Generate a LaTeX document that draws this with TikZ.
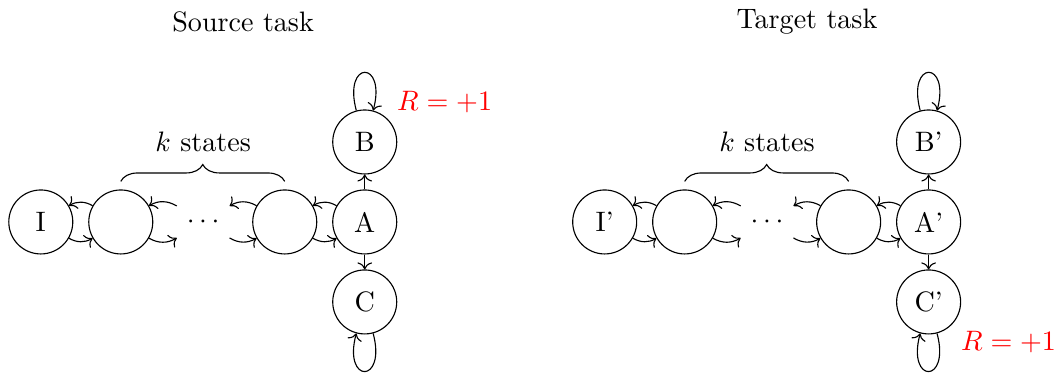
\documentclass[tikz,border=0pt]{standalone}
\usepackage{tikz}
\usetikzlibrary{arrows.meta,positioning,decorations.pathreplacing}

\begin{document}
\begin{tikzpicture}[
  state/.style={draw, circle, minimum size=0.8cm, inner sep=0pt},
  kbrace/.style={decorate, decoration={brace, amplitude=6pt}},
  reward/.style={text=red}
]
  \useasboundingbox (-0.51,-1.9) rectangle (12.73,2.775);

  % source task
  \node (srctitle) at (2.53,2.5) {Source task};
  \node[state] (i)  at (0,0) {I};
  \node[state] (s1) at (1,0) {};
  \node        (dots) at (2.03,0) {$\cdots$};
  \node[state] (s2) at (3.05,0) {};
  \node[state] (a)  at (4.05,0) {A};
  \node[state] (b)  at (4.05,1) {B};
  \node[state] (c)  at (4.05,-1) {C};
  \node[reward] (r) at (5.05,1.5) {$R=+1$};

  \coordinate (d1u) at (1.7,0.2);
  \coordinate (d1l) at (1.7,-0.2);
  \coordinate (d2u) at (2.36,0.2);
  \coordinate (d2l) at (2.36,-0.2);

  \draw[->] (s1.150) to[bend right] (i.30);
  \draw[->] (i.-30) to[bend right] (s1.210);
  \draw[->] (d1u) to[bend right] (s1.30);
  \draw[->] (s1.-30) to[bend right] (d1l);
  \draw[->] (s2.150) to[bend right] (d2u);
  \draw[->] (d2l) to[bend right] (s2.210);
  \draw[->] (a.150) to[bend right] (s2.30);
  \draw[->] (s2.-30) to[bend right] (a.210);
  \draw[->] (a) -- (b);
  \draw[->] (a) -- (c);
  \draw[->] (b) to[loop above] (b);
  \draw[->] (c) to[loop below] (c);

  \draw[kbrace] ([yshift=0.1cm]s1.north) -- ([yshift=0.1cm]s2.north);
  \node (kst) at (2.03,1.0) {$k$ states};

  % target task
  \begin{scope}[xshift=7.05cm]
  \node (tgttitle) at (2.53,2.5) {Target task};
  \node[state] (ip)  at (0,0) {I'};
  \node[state] (s1p) at (1,0) {};
  \node        (dotsp) at (2.03,0) {$\cdots$};
  \node[state] (s2p) at (3.05,0) {};
  \node[state] (ap)  at (4.05,0) {A'};
  \node[state] (bp)  at (4.05,1) {B'};
  \node[state] (cp)  at (4.05,-1) {C'};
  \node[reward] (rp) at (5.05,-1.5) {$R=+1$};

  \coordinate (d1up) at (1.7,0.2);
  \coordinate (d1lp) at (1.7,-0.2);
  \coordinate (d2up) at (2.36,0.2);
  \coordinate (d2lp) at (2.36,-0.2);

  \draw[->] (s1p.150) to[bend right] (ip.30);
  \draw[->] (ip.-30) to[bend right] (s1p.210);
  \draw[->] (d1up) to[bend right] (s1p.30);
  \draw[->] (s1p.-30) to[bend right] (d1lp);
  \draw[->] (s2p.150) to[bend right] (d2up);
  \draw[->] (d2lp) to[bend right] (s2p.210);
  \draw[->] (ap.150) to[bend right] (s2p.30);
  \draw[->] (s2p.-30) to[bend right] (ap.210);
  \draw[->] (ap) -- (bp);
  \draw[->] (ap) -- (cp);
  \draw[->] (bp) to[loop above] (bp);
  \draw[->] (cp) to[loop below] (cp);

  \draw[kbrace] ([yshift=0.1cm]s1p.north) -- ([yshift=0.1cm]s2p.north);
  \node (kstp) at (2.03,1.0) {$k$ states};
  \end{scope}
\end{tikzpicture}
\end{document}
